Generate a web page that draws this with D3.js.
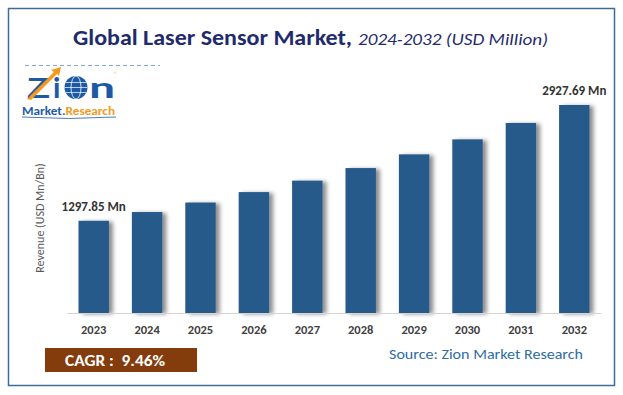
<!DOCTYPE html>
<html>
<head>
<meta charset="utf-8">
<script src="https://cdn.jsdelivr.net/npm/d3@7"></script>
<style>
  body { margin: 0; background: #fff; }
  text { font-family: Calibri, Carlito, "Open Sans", "Noto Sans", sans-serif; }
</style>
</head>
<body>
<div id="chart"></div>
<script>
const years = ["2023", "2024", "2025", "2026", "2027", "2028", "2029", "2030", "2031", "2032"];
const revenue = [1297.85, 1421, 1555, 1702, 1863, 2040, 2233, 2444, 2675, 2927.69];
const endLabels = ["1297.85 Mn", "2927.69 Mn"];

const width = 623;
const height = 395;

const svg = d3.select("#chart")
    .append("svg")
    .attr("width", width)
    .attr("height", height);

// shadow on right side of bars
const defs = svg.append("defs");
const shadow = defs.append("filter").attr("id", "shadow")
    .attr("x", "-20%").attr("y", "-5%").attr("width", "160%").attr("height", "110%");
shadow.append("feGaussianBlur").attr("in", "SourceAlpha").attr("stdDeviation", 2);
shadow.append("feOffset").attr("dx", 4).attr("dy", 1).attr("result", "off");
shadow.append("feComponentTransfer").append("feFuncA").attr("type", "linear").attr("slope", 0.45);
const merge = shadow.append("feMerge");
merge.append("feMergeNode");
merge.append("feMergeNode").attr("in", "SourceGraphic");

// frame
svg.append("rect")
    .attr("x", 8.5).attr("y", 8.5)
    .attr("width", 606).attr("height", 377)
    .attr("fill", "none")
    .attr("stroke", "#3d6c9b")
    .attr("stroke-width", 1.5);

// title (two parts)
svg.append("text")
    .attr("x", 73).attr("y", 45)
    .attr("font-weight", "bold").attr("font-size", 22)
    .attr("fill", "#1f2b6c")
    .attr("textLength", 279).attr("lengthAdjust", "spacingAndGlyphs")
    .text("Global Laser Sensor Market,");
svg.append("text")
    .attr("x", 358).attr("y", 45)
    .attr("font-style", "italic").attr("font-size", 17)
    .attr("fill", "#1f2b6c")
    .attr("textLength", 190).attr("lengthAdjust", "spacingAndGlyphs")
    .text("2024-2032 (USD Million)");

// logo
const logo = svg.append("g").attr("font-family", "Arial, 'Liberation Sans', sans-serif");
logo.append("line")
    .attr("x1", 25).attr("x2", 160).attr("y1", 65.5).attr("y2", 65.5)
    .attr("stroke", "#7fa7d9").attr("stroke-width", 1.2)
    .attr("stroke-dasharray", "4,3");
logo.append("text")
    .attr("x", 27).attr("y", 98)
    .attr("font-size", 30).attr("font-weight", "bold").attr("fill", "#1d5aa6")
    .attr("textLength", 23).attr("lengthAdjust", "spacingAndGlyphs")
    .text("Z");
logo.append("text")
    .attr("x", 53).attr("y", 98)
    .attr("font-size", 30).attr("font-weight", "bold").attr("fill", "#1d5aa6")
    .text("i");
logo.append("path")
    .attr("d", "M27 99 L54 72 L51 70 L61 67 L59 76 L57 74 L31 100 Z")
    .attr("fill", "#f39a1e");
logo.append("circle")
    .attr("cx", 76).attr("cy", 87.5).attr("r", 11.5)
    .attr("fill", "#1d5aa6");
logo.append("ellipse")
    .attr("cx", 76).attr("cy", 87.5).attr("rx", 5).attr("ry", 11.5)
    .attr("fill", "none").attr("stroke", "#fff").attr("stroke-width", 0.8);
[-5, 0, 5].forEach(dy => {
    const hw = Math.sqrt(11.5 * 11.5 - dy * dy);
    logo.append("line")
        .attr("x1", 76 - hw).attr("x2", 76 + hw)
        .attr("y1", 87.5 + dy).attr("y2", 87.5 + dy)
        .attr("stroke", "#fff").attr("stroke-width", 0.7);
});
logo.append("text")
    .attr("x", 89).attr("y", 98)
    .attr("font-size", 30).attr("font-weight", "bold").attr("fill", "#1d5aa6")
    .attr("textLength", 26).attr("lengthAdjust", "spacingAndGlyphs")
    .text("n");
logo.append("text")
    .attr("x", 114).attr("y", 76)
    .attr("font-size", 6).attr("fill", "#f39a1e")
    .text("®");
const sub = logo.append("text")
    .attr("x", 22).attr("y", 115)
    .attr("font-size", 12).attr("font-weight", "bold")
    .attr("textLength", 93).attr("lengthAdjust", "spacingAndGlyphs");
sub.append("tspan").attr("fill", "#1d5aa6").text("Market.");
sub.append("tspan").attr("fill", "#f39a1e").text("Research");
logo.append("path")
    .attr("d", "M22 117 Q68 120 116 117")
    .attr("fill", "none").attr("stroke", "#1d5aa6").attr("stroke-width", 0.8);

// scales
const x = d3.scaleBand()
    .domain(years)
    .range([67, 601])
    .paddingInner(0.43)
    .paddingOuter(0.215);

const y = d3.scaleLinear()
    .domain([0, 2927.69])
    .range([313, 105]);

// bars
svg.append("g")
    .selectAll("rect")
    .data(years)
    .enter().append("rect")
    .attr("x", d => x(d))
    .attr("y", (d, i) => y(revenue[i]))
    .attr("width", x.bandwidth())
    .attr("height", (d, i) => y(0) - y(revenue[i]))
    .attr("fill", "#285a8a")
    .attr("filter", "url(#shadow)");

// x axis
const xAxis = svg.append("g")
    .attr("transform", "translate(0,313)")
    .call(d3.axisBottom(x).tickSize(0).tickPadding(12));
xAxis.select(".domain").attr("stroke", "#d4d4d4").attr("stroke-width", 1.2);
xAxis.selectAll("text")
    .attr("font-size", 12.5)
    .attr("font-weight", "bold")
    .attr("fill", "#404040")
    .style("font-family", "Calibri, Carlito, 'Open Sans', sans-serif");

// y label
svg.append("text")
    .attr("transform", "translate(44,218) rotate(-90)")
    .attr("text-anchor", "middle")
    .attr("font-size", 12)
    .attr("fill", "#595959")
    .text("Revenue (USD Mn/Bn)");

// value labels for first and last bars
[0, years.length - 1].forEach((idx, k) => {
    svg.append("text")
        .attr("x", x(years[idx]) + x.bandwidth() / 2)
        .attr("y", y(revenue[idx]) - 10)
        .attr("text-anchor", "middle")
        .attr("font-size", 13)
        .attr("font-weight", "bold")
        .attr("fill", "#333")
        .text(endLabels[k]);
});

// CAGR box
svg.append("rect")
    .attr("x", 45).attr("y", 348)
    .attr("width", 152).attr("height", 24)
    .attr("fill", "#843c0c");
svg.append("text")
    .attr("x", 65).attr("y", 366)
    .attr("font-size", 15.5)
    .attr("font-weight", "bold")
    .attr("fill", "#fff")
    .attr("xml:space", "preserve")
    .attr("textLength", 100).attr("lengthAdjust", "spacingAndGlyphs")
    .text("CAGR :  9.46%");

// source
svg.append("text")
    .attr("x", 389).attr("y", 359)
    .attr("font-size", 15)
    .attr("fill", "#2e6da4")
    .attr("textLength", 194).attr("lengthAdjust", "spacingAndGlyphs")
    .text("Source: Zion Market Research");
</script>
</body>
</html>
